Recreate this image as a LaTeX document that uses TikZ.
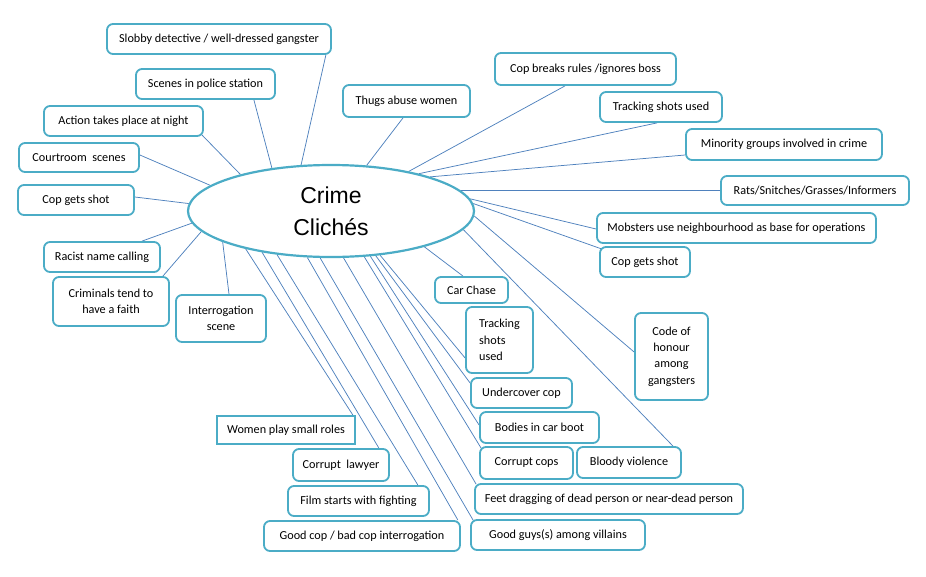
\documentclass[tikz,border=0pt]{standalone}
\usepackage{fontspec}
\setmainfont{Carlito}
\newfontfamily\titlefont{Liberation Sans}
\usetikzlibrary{backgrounds,shapes.geometric}
\definecolor{boxc}{RGB}{75,172,198}
\definecolor{linec}{RGB}{79,129,189}
\begin{document}
\begin{tikzpicture}[x=1pt,y=-1pt,
  box/.style={draw=boxc, line width=1.8pt, rounded corners=6pt, fill=white, inner sep=0pt,
    font=\fontsize{12.2}{16.3}\selectfont, text=black, minimum height=30pt},
  sqbox/.style={box, rounded corners=0pt},
  conn/.style={draw=linec, line width=0.75pt}]
\useasboundingbox (0,0) rectangle (926,576);

% central ellipse
\node[draw=boxc, line width=2.2pt, ellipse, fill=white, minimum width=286pt, minimum height=92pt,
  inner sep=0pt, align=center, font=\titlefont\fontsize{23}{32}\selectfont] (ell) at (331,211) {Crime\\Clich\'es};

% boxes
\node[box, minimum width=224pt] (slobby) at (219,39) {Slobby detective / well-dressed gangster};
\node[box, minimum width=139pt] (scenes) at (205.5,84) {Scenes in police station};
\node[box, minimum width=159pt] (action) at (123.5,121) {Action takes place at night};
\node[box, minimum width=120pt, minimum height=29pt] (court) at (79,157.5) {Courtroom\ \ scenes};
\node[box, minimum width=116pt] (copL) at (76,200) {Cop gets shot};
\node[box, minimum width=127pt, minimum height=32pt] (thugs) at (406.5,101) {Thugs abuse women};
\node[box, minimum width=116pt] (racist) at (102,257) {Racist name calling};
\node[box, minimum width=116pt, minimum height=49pt, align=center] (criminals) at (111,301.5) {Criminals tend to\\have a faith};
\node[box, minimum width=90pt, minimum height=47pt, align=center] (interrog) at (221,318.5) {Interrogation\\scene};
\node[box, minimum width=181pt, minimum height=32pt] (copbreaks) at (585.5,69) {Cop breaks rules /ignores boss};
\node[box, minimum width=122pt] (trackT) at (661,107) {Tracking shots used};
\node[box, minimum width=196pt, minimum height=31pt] (minority) at (784,144.5) {Minority groups involved in crime};
\node[box, minimum width=188pt, minimum height=29pt] (rats) at (815,190.5) {Rats/Snitches/Grasses/Informers};
\node[box, minimum width=279pt] (mobsters) at (736.5,228) {Mobsters use neighbourhood as base for operations};
\node[box, minimum width=90pt] (copR) at (645,262) {Cop gets shot};
\node[box, minimum width=73pt, minimum height=26pt] (carchase) at (471.5,290) {Car Chase};
\node[box, minimum width=67pt, minimum height=66pt, align=left] (trackB) at (499.5,340) {Tracking\\shots\\used};
\node[box, minimum width=73pt, minimum height=87pt, align=center] (code) at (671.5,356.5) {Code of\\honour\\among\\gangsters};
\node[box, minimum width=101pt] (undercover) at (521.5,393) {Undercover cop};
\node[box, minimum width=119pt, minimum height=31pt] (bodies) at (539.5,427.5) {Bodies in car boot};
\node[box, minimum width=93pt, minimum height=32pt] (corruptcops) at (526.5,463) {Corrupt cops};
\node[box, minimum width=104pt, minimum height=31pt] (bloody) at (629,462.5) {Bloody violence};
\node[box, minimum width=268pt] (feet) at (609,499) {Feet dragging of dead person or near-dead person};
\node[box, minimum width=174pt] (goodguys) at (558,535) {Good guys(s) among villains};
\node[box, minimum width=196pt] (goodcop) at (362,536) {Good cop / bad cop interrogation};
\node[box, minimum width=141pt] (film) at (358.5,501) {Film starts with fighting};
\node[box, minimum width=96pt, minimum height=32pt] (lawyer) at (341,465) {Corrupt\ \ lawyer};
\node[sqbox, minimum width=138pt, minimum height=28pt] (women) at (286,430) {Women play small roles};

% connectors
\begin{scope}[on background layer]
\draw[conn] (ell.123.7) -- ([xshift=-6pt]slobby.south east);
\draw[conn] (ell.144.8) -- ([xshift=-22pt]scenes.south east);
\draw[conn] (ell.158.8) -- ([xshift=-2pt,yshift=2pt]action.south east);
\draw[conn] (ell.168.4) -- ([yshift=2.5pt]court.east);
\draw[conn] (ell.177.6) -- ([yshift=3pt]copL.east);
\draw[conn] (ell.-175.9) -- ([xshift=40pt]racist.north);
\draw[conn] (ell.-171.8) -- ([xshift=-7pt]criminals.north east);
\draw[conn] (ell.-164) -- ([xshift=8pt]interrog.north);
\draw[conn] (ell.52.1) -- ([xshift=-3.5pt]thugs.south);
\draw[conn] (ell.27.5) -- ([xshift=-20.5pt]copbreaks.south);
\draw[conn] (ell.23.7) -- ([xshift=-4pt]trackT.south);
\draw[conn] (ell.19) -- ([yshift=-10.5pt]minority.west);
\draw[conn] (ell.9.1) -- (rats.west);
\draw[conn] (ell.5.4) -- ([yshift=-1pt]mobsters.west);
\draw[conn] (ell.3.3) -- ([xshift=3pt,yshift=-3pt]copR.north west);
\draw[conn] (ell.-2.4) -- ([yshift=4.5pt]code.west);
\draw[conn] (ell.-8.1) -- ([xshift=44pt]bloody.north);
\draw[conn] (ell.-21.5) -- ([xshift=-8.5pt]carchase.north);
\draw[conn] (ell.-156.1) -- ([xshift=-3pt]women.north east);
\draw[conn] (ell.-149.7) -- ([xshift=-11pt]lawyer.north east);
\draw[conn] (ell.-141.7) -- ([xshift=-12pt]film.north east);
\draw[conn] (ell.-117.9) -- ([xshift=-3pt]goodcop.north east);
\draw[conn] (ell.-103.5) -- ([xshift=3pt,yshift=-1pt]goodguys.north west);
\draw[conn] (ell.-75.3) -- ([xshift=2pt,yshift=-1pt]feet.north west);
\draw[conn] (ell.-54.5) -- ([xshift=2pt,yshift=-2pt]corruptcops.north west);
\draw[conn] (ell.-49.4) -- ([yshift=2.5pt]bodies.west);
\draw[conn] (ell.-45.6) -- ([yshift=10pt]undercover.west);
\draw[conn] (ell.-42.7) -- ([yshift=-18pt]trackB.west);
\end{scope}
\end{tikzpicture}
\end{document}
